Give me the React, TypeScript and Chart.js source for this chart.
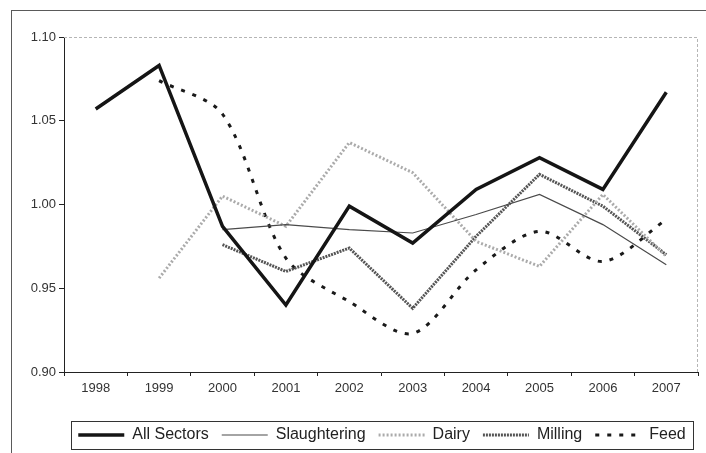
import React, { useEffect, useRef } from 'react';
import { Chart, registerables } from 'chart.js';

Chart.register(...registerables);

const years = ['1998', '1999', '2000', '2001', '2002', '2003', '2004', '2005', '2006', '2007'];
const allSectors = [1.057, 1.083, 0.987, 0.940, 0.999, 0.977, 1.009, 1.028, 1.009, 1.067];
const slaughtering = [null, null, 0.985, 0.988, 0.985, 0.983, 0.994, 1.006, 0.988, 0.964];
const dairy = [null, 0.956, 1.005, 0.987, 1.037, 1.019, 0.978, 0.963, 1.006, 0.969];
const milling = [null, null, 0.976, 0.960, 0.974, 0.938, 0.981, 1.018, 0.999, 0.970];
const feed = [null, 1.074, 1.054, 0.968, 0.942, 0.923, 0.961, 0.984, 0.966, 0.991];
const yTicks = [0.9, 0.95, 1.0, 1.05, 1.1];

const FONT = 'Liberation Sans, Arial, sans-serif';

const framePlugin = {
  id: 'frame',
  afterLayout(chart: any) {
    if (chart.legend) {
      chart.legend.left += 33;
      chart.legend.right += 33;
    }
  },
  beforeDatasetsDraw(chart: any) {
    const { ctx, chartArea } = chart;
    ctx.save();
    ctx.strokeStyle = '#b5b5b5';
    ctx.lineWidth = 1;
    ctx.setLineDash([3, 2]);
    ctx.beginPath();
    ctx.moveTo(chartArea.left, chartArea.top + 0.5);
    ctx.lineTo(chartArea.right - 0.5, chartArea.top + 0.5);
    ctx.lineTo(chartArea.right - 0.5, chartArea.bottom);
    ctx.stroke();
    ctx.restore();
  },
  afterDraw(chart: any) {
    const boxes = chart.legend?.legendHitBoxes;
    if (!boxes || !boxes.length) return;
    const { ctx } = chart;
    const first = boxes[0];
    const last = boxes[boxes.length - 1];
    const left = first.left - 7;
    const right = last.left + last.width + 8;
    const top = first.top - 6;
    const bottom = first.top + first.height + 6;
    ctx.save();
    ctx.strokeStyle = '#333';
    ctx.lineWidth = 1;
    ctx.setLineDash([]);
    ctx.strokeRect(Math.round(left) + 0.5, Math.round(top) + 0.5, Math.round(right - left), Math.round(bottom - top));
    ctx.restore();
  },
};

export default function App() {
  const ref = useRef<HTMLCanvasElement>(null);

  useEffect(() => {
    document.body.style.margin = '0';
    const chart = new Chart(ref.current as HTMLCanvasElement, {
      type: 'line',
      data: {
        labels: years,
        datasets: [
          { label: 'All Sectors', data: allSectors, borderColor: '#151515', borderWidth: 3.5, tension: 0 },
          { label: 'Slaughtering', data: slaughtering, borderColor: '#4a4a4a', borderWidth: 1.2, tension: 0 },
          { label: 'Dairy', data: dairy, borderColor: '#ababab', borderWidth: 3, borderDash: [2, 2], tension: 0 },
          { label: 'Milling', data: milling, borderColor: '#555555', borderWidth: 3, borderDash: [2, 1], tension: 0 },
          { label: 'Feed', data: feed, borderColor: '#1a1a1a', borderWidth: 3, borderDash: [4, 8], tension: 0.3 },
        ] as any,
      },
      options: {
        animation: false,
        responsive: false,
        maintainAspectRatio: false,
        layout: { padding: { left: 0, right: 8, top: 37, bottom: 0 } },
        elements: { point: { radius: 0, hoverRadius: 0 }, line: { borderCapStyle: 'butt', borderJoinStyle: 'miter' } },
        plugins: {
          tooltip: { enabled: false },
          legend: {
            position: 'bottom',
            labels: {
              usePointStyle: true,
              pointStyleWidth: 46,
              boxHeight: 16,
              padding: 13,
              color: '#222',
              font: { family: FONT, size: 16 },
              generateLabels: (c: any) =>
                c.data.datasets.map((ds: any, i: number) => ({
                  text: ds.label,
                  fillStyle: 'transparent',
                  strokeStyle: ds.borderColor,
                  lineWidth: ds.borderWidth,
                  lineDash: ds.borderDash || [],
                  pointStyle: 'line',
                  hidden: false,
                  datasetIndex: i,
                  fontColor: '#222',
                })),
            },
          },
        },
        scales: {
          x: {
            type: 'category',
            offset: true,
            grid: { offset: true, drawOnChartArea: false, drawTicks: true, tickLength: 4, color: '#222' },
            border: { color: '#222', width: 1 },
            ticks: { font: { family: FONT, size: 13 }, color: '#333', padding: 5, maxRotation: 0, autoSkip: false },
            afterFit: (s: any) => { s.height = 42; },
          },
          y: {
            min: yTicks[0],
            max: yTicks[yTicks.length - 1],
            afterBuildTicks: (s: any) => { s.ticks = yTicks.map((v) => ({ value: v })); },
            ticks: { callback: (v: any) => Number(v).toFixed(2), font: { family: FONT, size: 13 }, color: '#333', padding: 3 },
            grid: { drawOnChartArea: false, drawTicks: true, tickLength: 5, color: '#222' },
            border: { color: '#222', width: 1 },
            afterFit: (s: any) => { s.width = 64; },
          },
        },
      } as any,
      plugins: [framePlugin],
    });
    return () => chart.destroy();
  }, []);

  return (
    <div style={{ position: 'relative', width: 706, height: 453, overflow: 'hidden', background: '#fff' }}>
      <div style={{ position: 'absolute', left: 11, top: 10, width: 720, height: 470, border: '1px solid #5a5a5a' }} />
      <canvas ref={ref} width={706} height={453} style={{ position: 'absolute', left: 0, top: 0, width: 706, height: 453 }} />
    </div>
  );
}
